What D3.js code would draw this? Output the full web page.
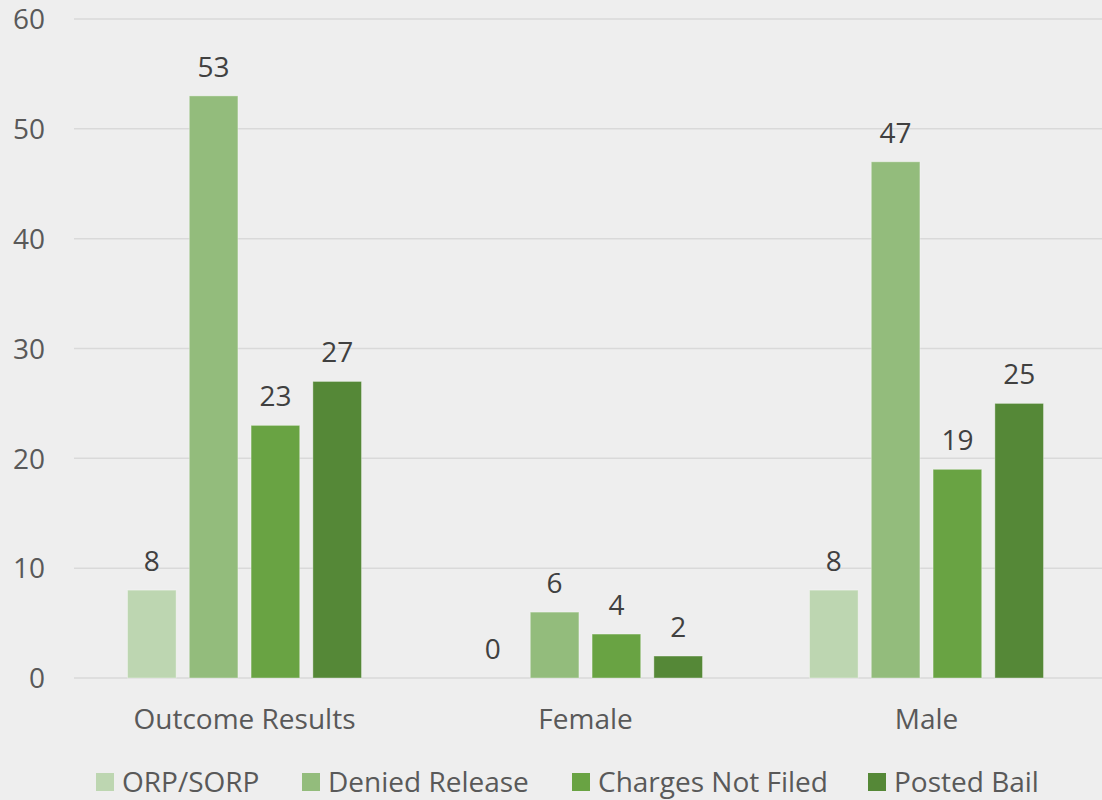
<!DOCTYPE html>
<html>
<head>
<meta charset="utf-8">
<script src="https://cdn.jsdelivr.net/npm/d3@7"></script>
<style>
  html, body { margin: 0; padding: 0; background: #eeeeee; }
  svg { display: block; }
  text { font-family: "Open Sans", "Noto Sans", sans-serif; }
</style>
</head>
<body>
<svg id="chart" width="1102" height="800"></svg>
<script>
const categories = ["Outcome Results", "Female", "Male"];
const seriesNames = ["ORP/SORP", "Denied Release", "Charges Not Filed", "Posted Bail"];
const orpSorp = [8, 0, 8];
const deniedRelease = [53, 6, 47];
const chargesNotFiled = [23, 4, 19];
const postedBail = [27, 2, 25];
const yTicks = [0, 10, 20, 30, 40, 50, 60];
const colors = ["#bdd6b1", "#93bc7c", "#69a343", "#558837"];

const seriesValues = [orpSorp, deniedRelease, chargesNotFiled, postedBail];
const FS = 28;

const svg = d3.select("#chart");
const W = 1102, H = 800;
svg.append("rect").attr("width", W).attr("height", H).attr("fill", "#eeeeee");

const x0 = d3.scaleBand().domain(categories).range([74, 1097]).paddingInner(0).paddingOuter(0);
const x1 = d3.scaleBand().domain(seriesNames).range([53.5, 287.5]).paddingInner(0.213).paddingOuter(0);
const y = d3.scaleLinear().domain([0, 60]).range([678, 19]);

// gridlines
const grid = svg.append("g");
grid.selectAll("line").data(yTicks).join("line")
  .attr("x1", 74).attr("x2", W)
  .attr("y1", d => y(d)).attr("y2", d => y(d))
  .attr("stroke", "#d9d9d9").attr("stroke-width", 1.5);

// y axis labels
const yAxis = d3.axisLeft(y).tickValues(yTicks).tickSize(0).tickPadding(0);
const ya = svg.append("g").attr("transform", "translate(45,0)").call(yAxis);
ya.select(".domain").remove();
ya.selectAll("text")
  .attr("font-family", "'Open Sans', sans-serif")
  .attr("font-size", FS).attr("fill", "#595959").attr("dy", "0.35em");

// x axis labels
const xAxis = d3.axisBottom(x0).tickSize(0).tickPadding(0);
const xa = svg.append("g").attr("transform", "translate(0,729)").call(xAxis);
xa.select(".domain").remove();
xa.selectAll("text")
  .attr("font-family", "'Open Sans', sans-serif")
  .attr("font-size", FS).attr("fill", "#595959").attr("dy", 0);

// bars
const groups = svg.append("g").selectAll("g").data(categories).join("g")
  .attr("transform", d => `translate(${x0(d)},0)`);

groups.each(function(cat, ci) {
  const g = d3.select(this);
  const data = seriesNames.map((s, si) => ({ s, si, v: seriesValues[si][ci] }));
  g.selectAll("rect").data(data.filter(d => d.v > 0)).join("rect")
    .attr("x", d => x1(d.s))
    .attr("width", x1.bandwidth())
    .attr("y", d => y(d.v))
    .attr("height", d => y(0) - y(d.v))
    .attr("fill", d => colors[d.si])
    .attr("stroke", "rgba(255,255,255,0.35)")
    .attr("stroke-width", 1);
  g.selectAll("text.lbl").data(data).join("text")
    .attr("class", "lbl")
    .attr("x", d => x1(d.s) + x1.bandwidth() / 2)
    .attr("y", d => y(d.v) - 19)
    .attr("text-anchor", "middle")
    .attr("font-size", FS)
    .attr("fill", "#404040")
    .text(d => d.v);
});

// legend (layout positions measured from reference)
const legendX = [96, 302, 572, 868];
const legend = svg.append("g").attr("transform", "translate(0,782)");
seriesNames.forEach((s, i) => {
  const lx = legendX[i];
  legend.append("rect").attr("x", lx).attr("y", -9).attr("width", 18).attr("height", 18).attr("fill", colors[i]);
  legend.append("text").attr("x", lx + 26).attr("y", 0).attr("dy", "0.35em")
    .attr("font-size", FS).attr("fill", "#595959").text(s);
});
</script>
</body>
</html>
